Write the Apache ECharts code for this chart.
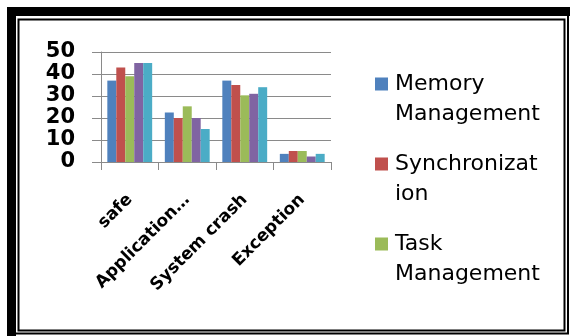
<!DOCTYPE html>
<html>
<head>
<meta charset="utf-8">
<script src="https://cdn.jsdelivr.net/npm/echarts@6/dist/echarts.min.js"></script>
<style>
	html, body { margin: 0; padding: 0; background: #fff; }
	#chartDiv { width: 570px; height: 336px; }
</style>
</head>
<body>
<div id="chartDiv"></div>
<script>
var categories = ['safe', 'Application…', 'System crash', 'Exception'];
var memoryManagement = [37, 22.5, 37, 3.7];
var synchronization = [43, 20, 35, 5];
var taskManagement = [39, 25.3, 30.3, 5];
var series4 = [45, 20, 31, 2.5];
var series5 = [45, 15, 34, 3.7];
var yTicks = [0, 10, 20, 30, 40, 50];

var colors = ['#4f81bd', '#c0504d', '#9bbb59', '#8064a2', '#4bacc6'];
var names = ['Memory\nManagement', 'Synchronizat\nion', 'Task\nManagement', 'Series4', 'Series5'];
var values = [memoryManagement, synchronization, taskManagement, series4, series5];

// square at the top of a taller icon box, so it lines up with the first text line
var legendIcon = 'path://M0,0L13,0L13,13L0,13Z M0,42.95L0.05,43L0,43Z';

var chart = echarts.init(document.getElementById('chartDiv'));

var series = [];
for (var i = 0; i < values.length; i++) {
	series.push({
		name: names[i],
		type: 'bar',
		data: values[i],
		barGap: 0,
		barCategoryGap: '22%',
		itemStyle: {
			color: colors[i]
		},
		animation: false
	});
}

var option = {
	backgroundColor: '#fff',
	grid: {
		left: 101,
		right: 239,
		top: 52,
		bottom: 174
	},
	legend: {
		data: names.slice(0, 3),
		orient: 'vertical',
		left: 375,
		top: 69,
		padding: 0,
		itemWidth: 13,
		itemHeight: 43,
		itemGap: 20,
		icon: legendIcon,
		selectedMode: false,
		textStyle: {
			fontFamily: 'DejaVu Sans',
			fontSize: 22,
			color: '#000',
			lineHeight: 30,
			padding: [0, 0, 0, 2]
		}
	},
	xAxis: {
		type: 'category',
		data: categories,
		axisLine: {
			lineStyle: { color: '#8a8a8a', width: 1 }
		},
		axisTick: {
			show: true,
			length: 8,
			lineStyle: { color: '#8a8a8a' }
		},
		axisLabel: {
			interval: 0,
			rotate: 45,
			margin: 35,
			fontFamily: 'DejaVu Sans',
			fontWeight: 'bold',
			fontSize: 17,
			color: '#000'
		}
	},
	yAxis: {
		type: 'value',
		min: yTicks[0],
		max: yTicks[yTicks.length - 1],
		interval: 10,
		axisLine: {
			show: true,
			lineStyle: { color: '#8a8a8a', width: 1 }
		},
		axisTick: {
			show: true,
			length: 9,
			lineStyle: { color: '#8a8a8a' }
		},
		splitLine: {
			lineStyle: { color: '#8a8a8a', width: 1 }
		},
		axisLabel: {
			margin: 26,
			fontFamily: 'DejaVu Sans',
			fontWeight: 'bold',
			fontSize: 21,
			color: '#000'
		}
	},
	graphic: [
		// thick black frame bands, top and left
		{ type: 'rect', shape: { x: 7, y: 7, width: 563, height: 9 }, style: { fill: '#000' }, silent: true },
		{ type: 'rect', shape: { x: 7, y: 7, width: 9, height: 329 }, style: { fill: '#000' }, silent: true },
		// inner thin frame
		{ type: 'rect', shape: { x: 18.5, y: 19.5, width: 546, height: 311 }, style: { fill: 'none', stroke: '#000', lineWidth: 2 }, silent: true },
		// outer thin lines right and bottom
		{ type: 'polyline', shape: { points: [[568, 16], [568, 333.5], [16, 333.5]] }, style: { fill: 'none', stroke: '#000', lineWidth: 2 }, silent: true }
	],
	series: series
};

chart.setOption(option);
</script>
</body>
</html>
